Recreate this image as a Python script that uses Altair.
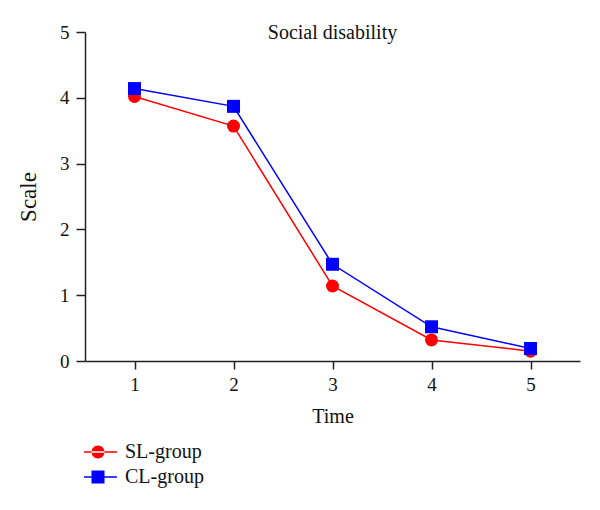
import altair as alt
import pandas as pd

times = [1, 2, 3, 4, 5]
sl_values = [4.02, 3.57, 1.14, 0.32, 0.15]
cl_values = [4.14, 3.87, 1.47, 0.52, 0.19]
groups = ["SL-group", "CL-group"]
colors = ["#ff0000", "#0000ff"]
shapes = ["circle", "square"]
y_ticks = [0, 1, 2, 3, 4, 5]

rows = []
for t, s, c in zip(times, sl_values, cl_values):
    rows.append({"Time": t, "Scale": s, "group": groups[0]})
    rows.append({"Time": t, "Scale": c, "group": groups[1]})
df = pd.DataFrame(rows)

FONT = "Liberation Serif"
AXC = "#222222"

# legend glyphs: a thin filled bar (the line) plus the marker, in unit symbol coordinates
bar_path = "M-2.15,-0.115L2.92,-0.115L2.92,0.115L-2.15,0.115Z"
circle_path = bar_path + "M-1,0A1,1,0,1,0,1,0A1,1,0,1,0,-1,0Z"
square_path = bar_path + "M-1,-1L1,-1L1,1L-1,1Z"
pick_color = f"datum.value === '{groups[0]}' ? '{colors[0]}' : '{colors[1]}'"

legend = alt.Legend(
    title=None, orient="none", legendX=3, legendY=410, padding=0,
    labelFont=FONT, labelFontSize=20, labelColor="#111111",
    symbolSize=169, rowPadding=5, labelOffset=17,
    symbolType=alt.ExprRef(expr=f"datum.value === '{groups[0]}' ? '{circle_path}' : '{square_path}'"),
    symbolFillColor=alt.ExprRef(expr=pick_color),
    symbolStrokeColor=alt.ExprRef(expr=pick_color),
    symbolStrokeWidth=0, symbolOpacity=1,
)

x = alt.X("Time:Q", scale=alt.Scale(domain=[0.5, 5.5], nice=False, zero=False),
          axis=alt.Axis(values=times, format="d", title="Time", grid=False,
                        domainColor=AXC, domainWidth=1.5, tickColor=AXC, tickWidth=1.5,
                        tickSize=8, labelPadding=6, labelFont=FONT, labelFontSize=19,
                        labelColor="#111111", titleFont=FONT, titleFontSize=20,
                        titleFontWeight="normal", titleColor="#111111", titlePadding=12))
y = alt.Y("Scale:Q", scale=alt.Scale(domain=[0, 5], nice=False),
          axis=alt.Axis(values=y_ticks, format="d", title="Scale", grid=False,
                        domainColor=AXC, domainWidth=1.5, tickColor=AXC, tickWidth=1.5,
                        tickSize=9, labelPadding=7, labelFont=FONT, labelFontSize=19,
                        labelColor="#111111", titleFont=FONT, titleFontSize=23,
                        titleFontWeight="normal", titleColor="#111111", titlePadding=19))

fill = alt.Fill("group:N", scale=alt.Scale(domain=groups, range=colors), legend=None)

base = alt.Chart(df)
lines = base.mark_line(strokeWidth=1.5).encode(
    x=x, y=y,
    stroke=alt.Stroke("group:N", scale=alt.Scale(domain=groups, range=colors), legend=legend),
    detail="group:N",
)
layers = [lines]
for g, shp in zip(groups, shapes):
    layers.append(
        base.transform_filter(alt.datum.group == g)
        .mark_point(filled=True, opacity=1, shape=shp, size=169)
        .encode(x=x, y=y, fill=fill)
    )

chart = alt.layer(*layers).properties(
    width=495, height=329,
    title=alt.TitleParams("Social disability", font=FONT, fontSize=20, fontWeight="normal",
                          color="#111111", anchor="middle", frame="group",
                          baseline="alphabetic", offset=-4, dy=32),
    autosize=alt.AutoSizeParams(type="none"),
    padding={"left": 77, "top": 24, "right": 12, "bottom": 141},
).configure_view(stroke=None)

chart.save("out.html", embed_options={"renderer": "svg", "actions": False})
